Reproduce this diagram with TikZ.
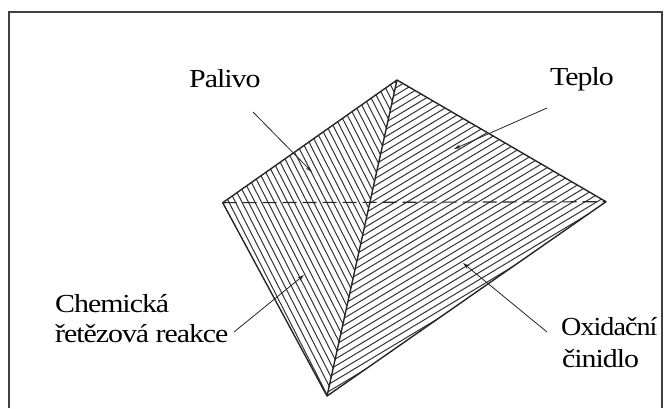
\documentclass[tikz,border=0pt]{standalone}
\usepackage{fontspec}
\setmainfont{Liberation Serif}[FakeStretch=1.15, LetterSpace=-4]
\usetikzlibrary{arrows.meta}
\begin{document}
\begin{tikzpicture}[x=1pt,y=-1pt,
  edge/.style={line width=1.4pt, black!85, line join=round},
  hatch/.style={line width=1pt, black!80},
  lbl/.style={inner sep=0pt, anchor=base west, font=\fontsize{26}{28}\selectfont},
  ptr/.style={line width=0.8pt, black!85, -{Stealth[length=7pt,width=4pt]}}]
\useasboundingbox (0,0) rectangle (668,408);
\draw[line width=1.4pt, black!75] (9,408) -- (9,12) -- (662,12) -- (662,408);
% vertices
\coordinate (T) at (397,80);
\coordinate (L) at (222.7,202.7);
\coordinate (R) at (606,201.7);
\coordinate (B) at (327,396);
% left face hatching
\begin{scope}
\clip (T) -- (L) -- (B) -- cycle;
\foreach \k in {0,...,38} {
  \draw[hatch] ({222.7+\k*5.8*0.891-400*0.454},{202.7-\k*5.8*0.454-400*0.891})
    -- ({222.7+\k*5.8*0.891+400*0.454},{202.7-\k*5.8*0.454+400*0.891});
}
\end{scope}
% right face hatching
\begin{scope}
\clip (T) -- (R) -- (B) -- cycle;
\foreach \k in {0,...,39} {
  \draw[hatch] ({397+\k*6.1*0.515-400*0.857},{80+\k*6.1*0.857+400*0.515})
    -- ({397+\k*6.1*0.515+400*0.857},{80+\k*6.1*0.857-400*0.515});
}
\end{scope}
% outline
\draw[edge] (T) -- (R) -- (B) -- (L) -- cycle;
\draw[edge] (T) -- (B);
\draw[edge, line width=1.1pt, dash pattern=on 14pt off 6pt] (L) -- (R);
% labels
\node[lbl] (pal) at (189,87) {Palivo};
\node[lbl] (tep) at (550,85) {Teplo};
\node[lbl] (chem1) at (55,312) {Chemická};
\node[lbl] (chem2) at (55,342) {řetězová reakce};
\node[lbl] (oxi1) at (561,335) {\scalebox{0.94}[1]{Oxidační}};
\node[lbl] (oxi2) at (562,367) {činidlo};
% arrow ends
\coordinate (palS) at (253,112);
\coordinate (palE) at (312,172);
\coordinate (tepS) at (547,108);
\coordinate (tepE) at (454,149);
\coordinate (chemS) at (234,332);
\coordinate (chemE) at (304,275);
\coordinate (oxiS) at (547,332);
\coordinate (oxiE) at (463,263);
\draw[ptr] (palS) -- (palE);
\draw[ptr] (tepS) -- (tepE);
\draw[ptr] (chemS) -- (chemE);
\draw[ptr] (oxiS) -- (oxiE);
\end{tikzpicture}
\end{document}
